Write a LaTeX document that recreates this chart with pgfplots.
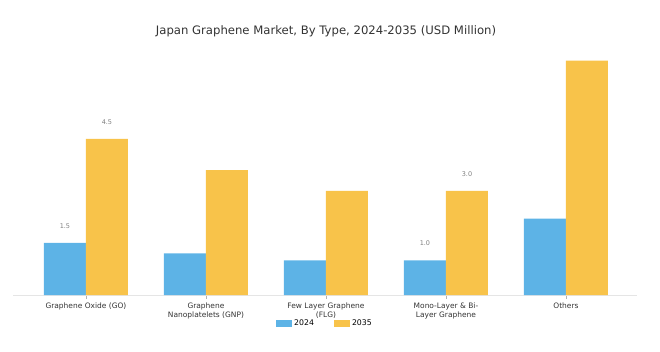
\documentclass[border=0pt]{standalone}
\usepackage{pgfplots}
\pgfplotsset{compat=1.18}
\usepackage{fontspec}
\setmainfont{DejaVu Sans}
\definecolor{c24}{HTML}{5DB3E6}
\definecolor{c35}{HTML}{F8C34A}
\begin{document}
\begin{tikzpicture}[x=1bp,y=1bp]
\useasboundingbox (0,0) rectangle (660,351);
\node[font=\fontsize{11.7}{14}\selectfont, text=black!80] at (326,320) {Japan Graphene Market, By Type, 2024-2035 (USD Million)};
\begin{axis}[
  at={(13bp,56bp)}, anchor=south west, scale only axis,
  width=624bp, height=243bp,
  xmin=-0.608, xmax=4.592, ymin=0, ymax=7,
  ybar=0pt, bar width=0.35,
  axis x line*=bottom, hide y axis,
  axis line style={draw=gray!20, line width=0.8pt, -},
  xtick={0,1,2,3,4},
  xticklabels={Graphene Oxide (GO), Graphene\\Nanoplatelets (GNP), Few Layer Graphene\\(FLG), Mono-Layer \& Bi-\\Layer Graphene, Others},
  x tick label style={font=\fontsize{7.5}{9}\selectfont, align=center, text=black!80},
  xtick style={draw=gray!60, line width=0.5pt},
  major tick length=4bp, tick align=outside,
  ytick=\empty,
  nodes near coords, point meta=explicit symbolic,
  every node near coord/.append style={font=\fontsize{6.5}{7}\selectfont, text=gray, yshift=11bp},
  legend columns=2,
  legend style={at={(0.5,-0.118)}, anchor=center, draw=none, fill=none, font=\fontsize{7.8}{9}\selectfont,
    /tikz/every even column/.append style={column sep=18bp}},
  legend image code/.code={\fill[#1] (0bp,-3.5bp) rectangle (16bp,3.5bp);},
]
\addplot[fill=c24, draw=none] coordinates {(0,1.5)[1.5] (1,1.2)[] (2,1.0)[] (3,1.0)[1.0] (4,2.2)[]};
\addplot[fill=c35, draw=none] coordinates {(0,4.5)[4.5] (1,3.6)[] (2,3.0)[] (3,3.0)[3.0] (4,6.75)[]};
\legend{2024,2035}
\end{axis}
\end{tikzpicture}
\end{document}
